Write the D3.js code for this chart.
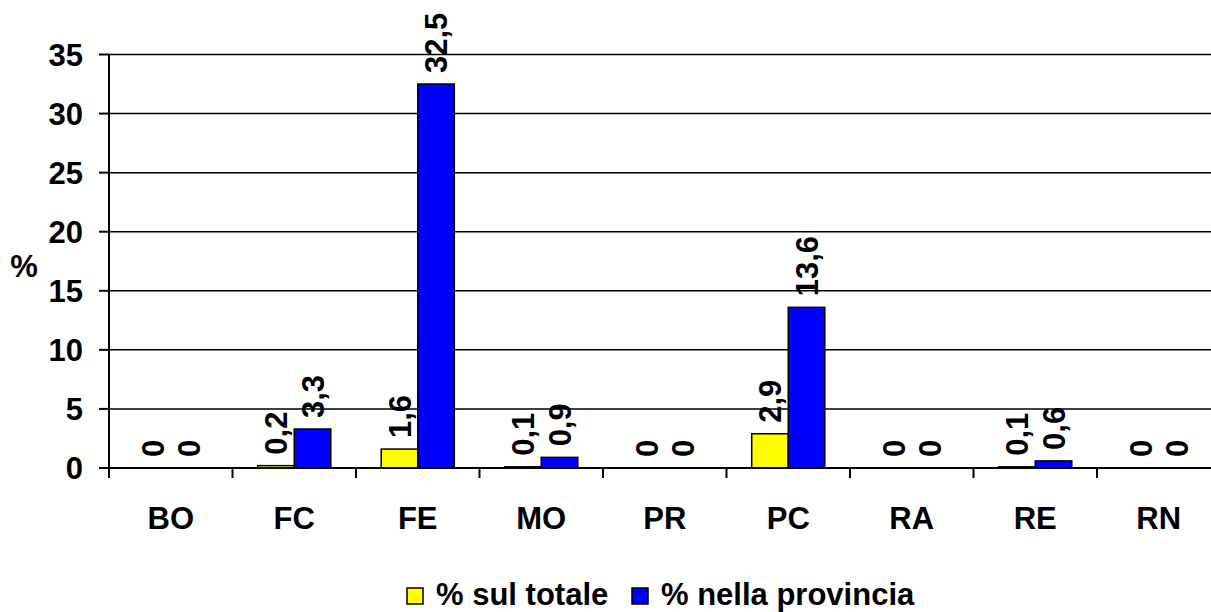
<!DOCTYPE html>
<html>
<head>
<meta charset="utf-8">
<script src="https://cdn.jsdelivr.net/npm/d3@7"></script>
<style>
  body { margin: 0; background: #fff; }
  svg { display: block; }
  text { font-family: "Liberation Sans", Arial, sans-serif; font-weight: bold; fill: #000; }
</style>
</head>
<body>
<svg id="chart" width="1211" height="612"></svg>
<script>
const categories = ["BO", "FC", "FE", "MO", "PR", "PC", "RA", "RE", "RN"];
const sulTotale = [0, 0.2, 1.6, 0.1, 0, 2.9, 0, 0.1, 0];
const nellaProvincia = [0, 3.3, 32.5, 0.9, 0, 13.6, 0, 0.6, 0];
const seriesNames = ["% sul totale", "% nella provincia"];
const seriesColors = ["#ffff00", "#0000ff"];
const yTicks = [0, 5, 10, 15, 20, 25, 30, 35];

const plotLeft = 109, plotRight = 1220.5, plotTop = 54.5, plotBottom = 468;
const fs = 31;

const svg = d3.select("#chart");

const x = d3.scaleBand().domain(categories).range([plotLeft, plotRight]).padding(0);
const x1 = d3.scaleBand().domain([0, 1]).range([0, x.bandwidth()]).paddingInner(0).paddingOuter(0.69);
const y = d3.scaleLinear().domain([0, 35]).range([plotBottom, plotTop]);

const fmt = v => String(v).replace(".", ",");

// gridlines
svg.append("g")
  .selectAll("line")
  .data(yTicks.filter(d => d > 0))
  .enter().append("line")
  .attr("x1", plotLeft).attr("x2", plotRight)
  .attr("y1", d => y(d)).attr("y2", d => y(d))
  .attr("stroke", "#000")
  .attr("stroke-width", 1.5);

// bars
const data = categories.map((c, i) => ({c, vals: [sulTotale[i], nellaProvincia[i]]}));

const groups = svg.append("g")
  .selectAll("g")
  .data(data)
  .enter().append("g")
  .attr("transform", d => `translate(${x(d.c)},0)`);

groups.selectAll("rect")
  .data(d => d.vals.map((v, s) => ({v, s})))
  .enter().append("rect")
  .attr("x", d => x1(d.s))
  .attr("width", x1.bandwidth())
  .attr("y", d => y(d.v))
  .attr("height", d => plotBottom - y(d.v))
  .attr("fill", d => seriesColors[d.s])
  .attr("stroke", "#000")
  .attr("stroke-width", 1.5);

// value labels (rotated)
groups.selectAll("text")
  .data(d => d.vals.map((v, s) => ({v, s})))
  .enter().append("text")
  .attr("transform", d => {
    const cx = x1(d.s) + x1.bandwidth() / 2;
    const cy = y(d.v) - 11;
    return `translate(${cx},${cy}) rotate(-90)`;
  })
  .attr("dy", "0.36em")
  .attr("font-size", fs)
  .text(d => fmt(d.v));

// axes lines
svg.append("line")
  .attr("x1", plotLeft).attr("x2", plotRight)
  .attr("y1", plotBottom).attr("y2", plotBottom)
  .attr("stroke", "#000").attr("stroke-width", 2);
svg.append("line")
  .attr("x1", plotLeft).attr("x2", plotLeft)
  .attr("y1", plotTop).attr("y2", plotBottom + 10)
  .attr("stroke", "#000").attr("stroke-width", 2);

// y ticks and labels
const yAxis = svg.append("g");
yAxis.selectAll("line")
  .data(yTicks)
  .enter().append("line")
  .attr("x1", plotLeft - 10).attr("x2", plotLeft)
  .attr("y1", d => y(d)).attr("y2", d => y(d))
  .attr("stroke", "#000").attr("stroke-width", 2);
yAxis.selectAll("text")
  .data(yTicks)
  .enter().append("text")
  .attr("x", 83)
  .attr("y", d => y(d))
  .attr("dy", "0.37em")
  .attr("text-anchor", "end")
  .attr("font-size", fs)
  .text(d => d);

svg.append("text")
  .attr("x", 24).attr("y", 277)
  .attr("text-anchor", "middle")
  .attr("font-size", fs)
  .text("%");

// x ticks at category boundaries
svg.append("g")
  .selectAll("line")
  .data(categories.slice(1))
  .enter().append("line")
  .attr("x1", d => x(d)).attr("x2", d => x(d))
  .attr("y1", plotBottom).attr("y2", plotBottom + 10)
  .attr("stroke", "#000").attr("stroke-width", 2);

svg.append("g")
  .selectAll("text")
  .data(categories)
  .enter().append("text")
  .attr("x", d => x(d) + x.bandwidth() / 2)
  .attr("y", 529)
  .attr("text-anchor", "middle")
  .attr("font-size", fs)
  .text(d => d);

// legend
const legendX = [407, 632];
const legend = svg.append("g")
  .selectAll("g")
  .data(seriesNames)
  .enter().append("g")
  .attr("transform", (d, i) => `translate(${legendX[i]},588)`);
legend.append("rect")
  .attr("width", 16).attr("height", 16)
  .attr("fill", (d, i) => seriesColors[i])
  .attr("stroke", "#000").attr("stroke-width", 1.5);
legend.append("text")
  .attr("x", 29).attr("y", 17)
  .attr("font-size", fs)
  .text(d => d);
</script>
</body>
</html>
